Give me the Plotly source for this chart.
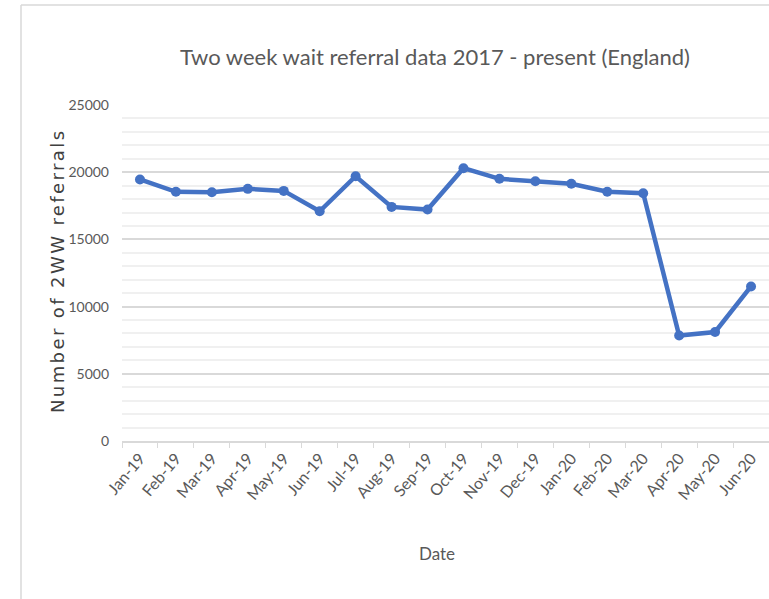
import plotly.graph_objects as go

months = ["Jan-19", "Feb-19", "Mar-19", "Apr-19", "May-19", "Jun-19", "Jul-19", "Aug-19", "Sep-19",
          "Oct-19", "Nov-19", "Dec-19", "Jan-20", "Feb-20", "Mar-20", "Apr-20", "May-20", "Jun-20"]
referrals = [19460, 18540, 18510, 18760, 18610, 17090, 19700, 17420, 17220,
             20300, 19510, 19330, 19140, 18540, 18430, 7850, 8110, 11500]
y_ticks = [0, 5000, 10000, 15000, 20000, 25000]

FONT = "Lato"
GREY = "#595959"

fig = go.Figure()
fig.add_trace(go.Scatter(
    x=months, y=referrals, mode="lines+markers",
    line=dict(color="#4472C4", width=4.5),
    marker=dict(color="#4472C4", size=10),
    showlegend=False,
))

fig.update_layout(
    width=769, height=599,
    margin=dict(l=122, r=0, t=105, b=158),
    paper_bgcolor="white", plot_bgcolor="white",
    font=dict(family=FONT, color=GREY, size=15),
    title=dict(text="Two week wait referral data 2017 - present (England)",
               x=435 / 769, xanchor="center", y=1 - 57 / 599, yanchor="middle",
               font=dict(family=FONT, size=22, color=GREY)),
    xaxis=dict(type="category", tickangle=-50, tickson="boundaries", ticks="outside",
               ticklen=5, tickcolor="#d9d9d9", showline=True, linecolor="#d9d9d9",
               linewidth=1.5, showgrid=False, tickfont=dict(family=FONT, size=16, color=GREY),
               range=[-0.5, 17.5]),
    yaxis=dict(range=[0, 25000], tickvals=y_ticks, tickformat="d", showgrid=True,
               gridcolor="#d9d9d9", gridwidth=1.5, zeroline=False, ticks="",
               ticklabelstandoff=12, tickfont=dict(family=FONT, size=14, color=GREY),
               minor=dict(dtick=1000, showgrid=True, gridcolor="#f0f0f0", gridwidth=1.5)),
    annotations=[
        dict(text="Date", xref="paper", yref="paper", x=(437 - 122) / 647, y=-(553 - 441) / 336,
             xanchor="center", yanchor="middle", showarrow=False,
             font=dict(family=FONT, size=17, color=GREY)),
        dict(text='<span style="letter-spacing:2.4px">Number of 2WW referrals</span>',
             xref="paper", yref="paper",
             x=-(122 - 57) / 647, y=(441 - 271) / 336, textangle=-90,
             xanchor="center", yanchor="middle", showarrow=False,
             font=dict(family="DejaVu Sans", size=18, color="#404040")),
    ],
    shapes=[
        dict(type="line", xref="paper", yref="paper", x0=(21 - 122) / 647, x1=(21 - 122) / 647,
             y0=(441 - 5) / 336, y1=-(599 - 441) / 336, line=dict(color="#d9d9d9", width=1.5)),
        dict(type="line", xref="paper", yref="paper", x0=(21 - 122) / 647, x1=1.0,
             y0=(441 - 5) / 336, y1=(441 - 5) / 336, line=dict(color="#d9d9d9", width=1.5)),
    ],
)

fig.write_html("out.html")
